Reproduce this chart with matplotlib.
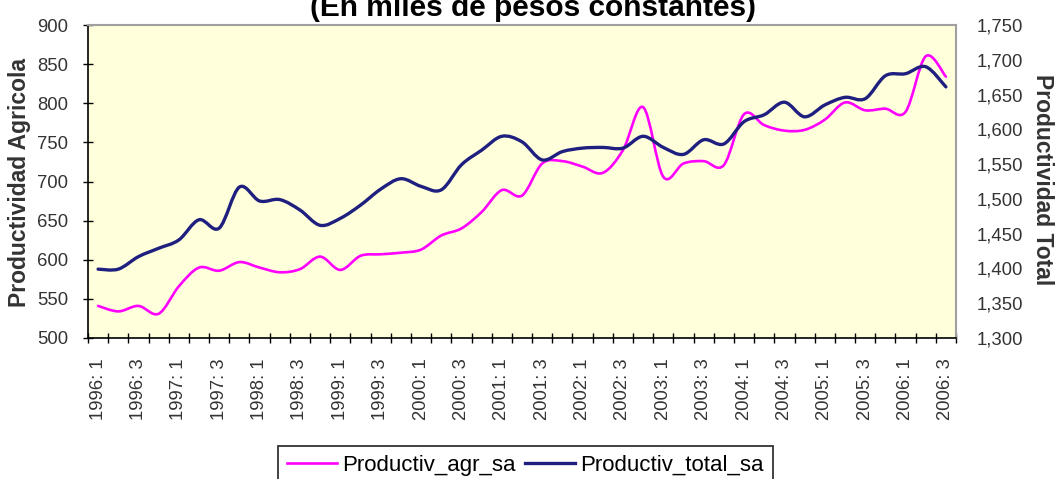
import matplotlib
matplotlib.use('Agg')
import matplotlib.pyplot as plt
import numpy as np
from matplotlib.path import Path
from matplotlib.patches import PathPatch
from matplotlib.lines import Line2D
from matplotlib.ticker import FixedLocator, FuncFormatter

plt.rcParams['font.family'] = ['Liberation Sans', 'DejaVu Sans']

quarters = ["1996: 1", "1996: 2", "1996: 3", "1996: 4",
            "1997: 1", "1997: 2", "1997: 3", "1997: 4",
            "1998: 1", "1998: 2", "1998: 3", "1998: 4",
            "1999: 1", "1999: 2", "1999: 3", "1999: 4",
            "2000: 1", "2000: 2", "2000: 3", "2000: 4",
            "2001: 1", "2001: 2", "2001: 3", "2001: 4",
            "2002: 1", "2002: 2", "2002: 3", "2002: 4",
            "2003: 1", "2003: 2", "2003: 3", "2003: 4",
            "2004: 1", "2004: 2", "2004: 3", "2004: 4",
            "2005: 1", "2005: 2", "2005: 3", "2005: 4",
            "2006: 1", "2006: 2", "2006: 3"]

productiv_agr_sa = [541, 534, 541, 531, 566, 590, 586, 597, 590, 584,
                    588, 604, 587, 605, 607, 609, 613, 631, 640, 661,
                    689, 682, 723, 726, 719, 711, 740, 795, 706, 723,
                    726, 721, 786, 772, 765, 766, 779, 801, 791, 793,
                    789, 860, 834]

productiv_total_sa = [1399, 1399, 1417, 1429, 1441, 1470, 1458, 1517, 1497, 1499,
                      1484, 1462, 1472, 1491, 1514, 1529, 1518, 1513, 1549, 1570,
                      1590, 1582, 1556, 1568, 1573, 1574, 1573, 1590, 1574, 1564,
                      1585, 1579, 1611, 1621, 1639, 1618, 1635, 1646, 1644, 1677,
                      1680, 1690, 1661]

series_names = ["Productiv_agr_sa", "Productiv_total_sa"]
agr_color = '#FF00FF'
total_color = '#1F1F80'
label_gray = '#333333'


def smooth_path(values):
    y = np.asarray(values, float)
    x = np.arange(len(y), dtype=float)
    n = len(y)
    verts = [(x[0], y[0])]
    codes = [Path.MOVETO]
    for i in range(n - 1):
        p0 = max(i - 1, 0)
        p3 = min(i + 2, n - 1)
        c1 = (x[i] + (x[i + 1] - x[p0]) / 6, y[i] + (y[i + 1] - y[p0]) / 6)
        c2 = (x[i + 1] - (x[p3] - x[i]) / 6, y[i + 1] - (y[p3] - y[i]) / 6)
        verts += [c1, c2, (x[i + 1], y[i + 1])]
        codes += [Path.CURVE4] * 3
    return Path(verts, codes)


W, H = 1055, 479
fig = plt.figure(figsize=(W / 100, H / 100), dpi=100)
ax = fig.add_axes([88 / W, 1 - 338 / H, (956 - 88) / W, (338 - 25) / H])
ax.set_facecolor('#FFFFDC')

n = len(quarters)
ax.set_xlim(-0.5, n - 0.5)
ax.set_ylim(500, 900)
ax.set_yticks(np.arange(500, 901, 50))

ax.xaxis.set_major_locator(FixedLocator(np.arange(-0.5, n, 1.0)))
ax.set_xticklabels([])
label_pos = np.arange(0, n, 2)
ax.set_xticks(label_pos, minor=True)
ax.set_xticklabels([quarters[i] for i in label_pos], minor=True,
                   rotation=90, fontsize=13.3)
ax.tick_params(axis='x', which='major', direction='inout', length=7,
               width=1, color='black')
ax.tick_params(axis='x', which='minor', length=0, pad=14.5,
               labelcolor=label_gray)
ax.tick_params(axis='y', direction='inout', length=6.5, width=1,
               pad=10.8, labelsize=13.3, color='black', labelcolor=label_gray)

for s in ['top', 'right']:
    ax.spines[s].set_color('#A0A0A0')
    ax.spines[s].set_linewidth(1.5)
for s in ['left', 'bottom']:
    ax.spines[s].set_color('black')
    ax.spines[s].set_linewidth(1.2)

ax2 = ax.twinx()
ax2.set_ylim(1300, 1750)
ax2.set_yticks(np.arange(1300, 1751, 50))
ax2.yaxis.set_major_formatter(FuncFormatter(lambda v, p: f"{v:,.0f}"))
ax2.tick_params(axis='y', length=0, pad=14.9, labelsize=13.3,
                labelcolor=label_gray)
for s in ax2.spines.values():
    s.set_visible(False)

ax.add_patch(PathPatch(smooth_path(productiv_agr_sa), fill=False,
                       edgecolor=agr_color, linewidth=1.9,
                       capstyle='round', joinstyle='round'))
ax2.add_patch(PathPatch(smooth_path(productiv_total_sa), fill=False,
                        edgecolor=total_color, linewidth=2.4,
                        capstyle='round', joinstyle='round'))

fig.text(20 / W, 1 - 182 / H, 'Productividad Agricola', rotation=90,
         ha='center', va='center', fontsize=16.5, fontweight='bold',
         color=label_gray)
fig.text(1042 / W, 1 - 180 / H, 'Productividad Total', rotation=270,
         ha='center', va='center', fontsize=16.5, fontweight='bold',
         color=label_gray)
fig.text(533 / W, 1 - 16 / H, '(En miles de pesos constantes)',
         ha='center', va='baseline', fontsize=21.5, fontweight='bold')

handles = [Line2D([], [], color=agr_color, linewidth=1.9),
           Line2D([], [], color=total_color, linewidth=2.4)]
leg = fig.legend(handles, series_names, loc='upper left',
                 bbox_to_anchor=(278 / W, 1 - 446 / H), ncol=2,
                 fontsize=16, frameon=True, fancybox=False,
                 edgecolor='black', borderpad=0.4, handlelength=2.25,
                 handletextpad=0.22, columnspacing=0.45, borderaxespad=0)
leg.get_frame().set_linewidth(1.3)

fig.savefig('out.png', dpi=100)
